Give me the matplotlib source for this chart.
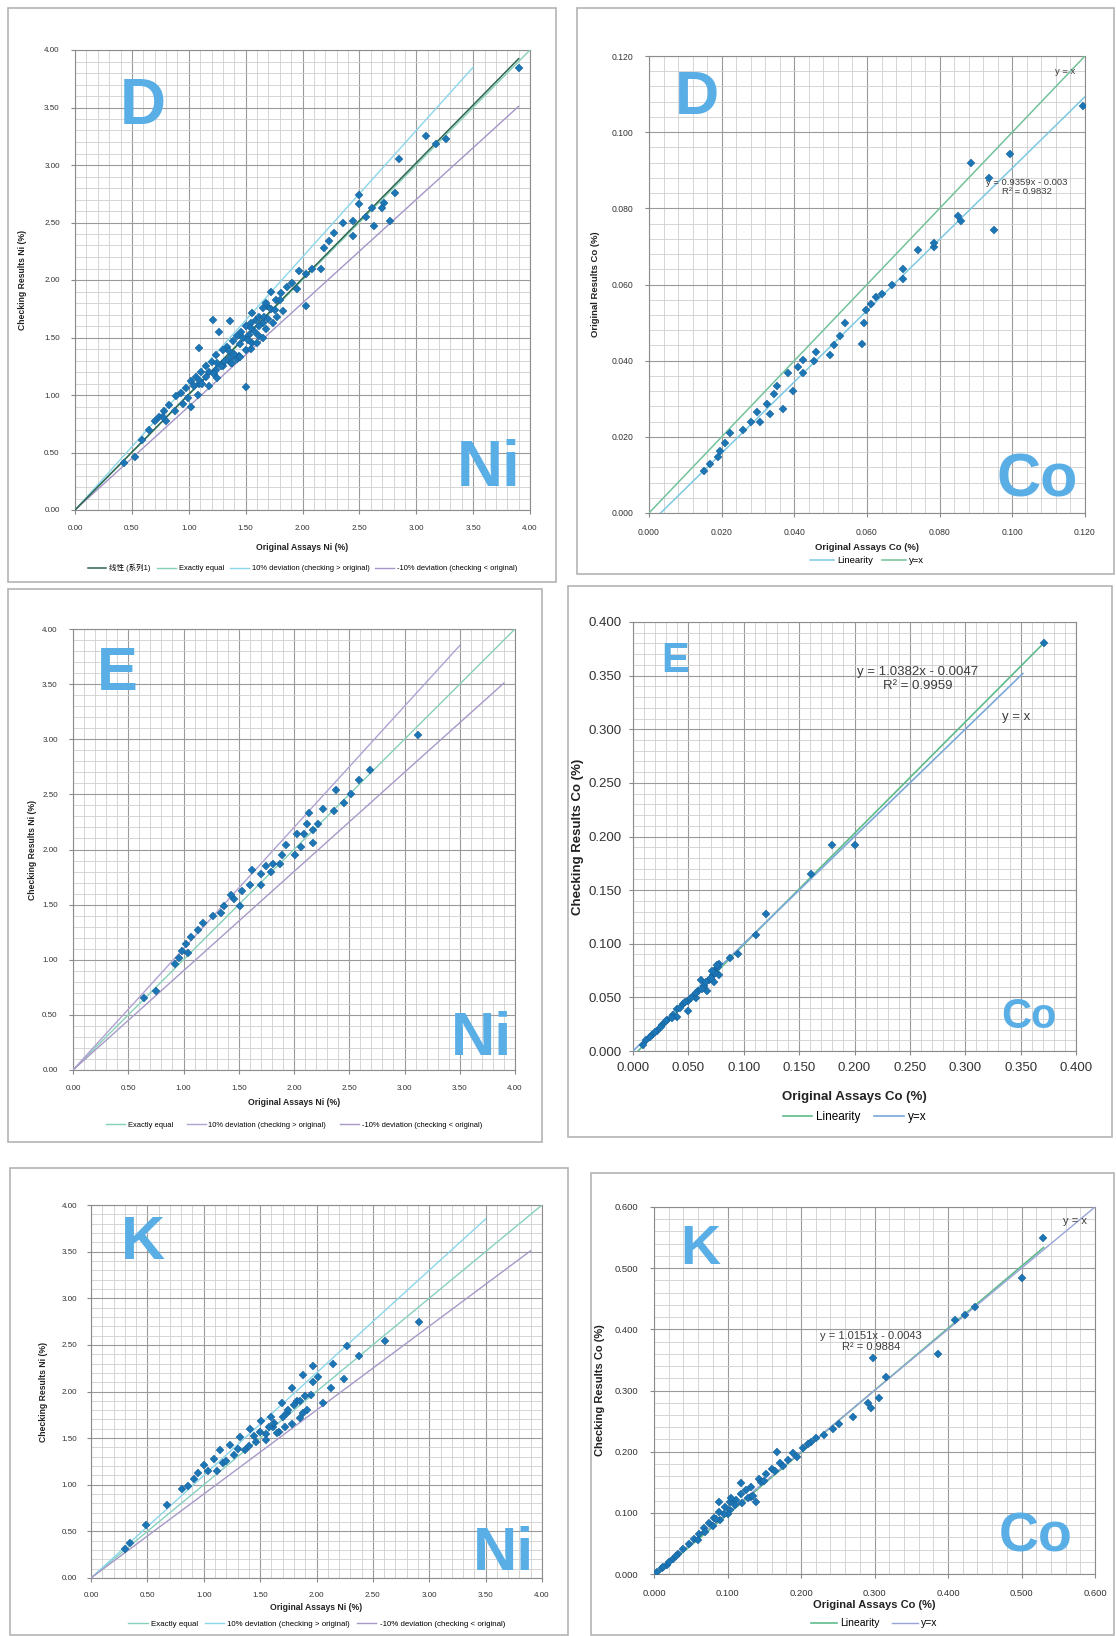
import matplotlib
matplotlib.use("Agg")
import matplotlib.pyplot as plt
import numpy as np
from matplotlib.patches import Rectangle
from matplotlib.ticker import MultipleLocator, FormatStrFormatter

plt.rcParams["font.family"] = ["Liberation Sans", "Noto Sans CJK SC", "DejaVu Sans"]

W, H = 1116, 1636

# ---- data: Site D, Ni (original, checking) ----
d_ni_orig = [3.90, 3.09, 3.17, 3.26, 2.85, 2.50, 2.50, 2.61, 2.70, 2.81, 2.72, 2.63, 2.77,
             2.44, 2.36, 2.44, 2.56, 2.28, 2.23, 2.19, 2.16, 2.08, 2.03, 1.97, 1.91, 1.95,
             2.03, 1.86, 1.81, 1.77, 1.72, 1.69, 1.65, 1.83, 1.21, 1.36, 1.27, 1.09, 1.50,
             1.50, 1.55, 1.59, 1.62, 1.46, 1.42, 1.39, 1.34, 1.30, 1.24, 1.20, 1.15, 1.11,
             1.06, 1.02, 0.98, 0.93, 0.89, 0.83, 0.78, 0.74, 0.70, 0.65, 0.59, 0.53, 0.43,
             1.37, 1.42, 1.50, 1.56, 1.62, 1.68, 1.74, 1.78, 1.44, 1.36, 1.30, 1.24, 1.15,
             1.09, 1.02, 0.99, 0.80, 0.77, 1.56, 1.68, 1.80, 1.53, 1.65,
             1.05, 1.10, 1.12, 1.18, 1.22, 1.25, 1.28, 1.32, 1.35, 1.40, 1.45, 1.48, 1.52,
             1.55, 1.58, 1.62, 1.66, 1.70, 1.72, 1.76, 1.60, 1.55, 1.65, 1.45, 1.38, 1.25,
             1.18, 1.08, 0.95, 0.88]
d_ni_check = [3.84, 3.25, 3.18, 3.23, 3.05, 2.74, 2.66, 2.63, 2.63, 2.76, 2.67, 2.47, 2.51,
              2.51, 2.50, 2.38, 2.55, 2.41, 2.34, 2.28, 2.10, 2.10, 2.05, 2.08, 1.97, 1.92,
              1.77, 1.94, 1.89, 1.83, 1.90, 1.77, 1.76, 1.73, 1.65, 1.64, 1.55, 1.41, 1.07,
              1.60, 1.63, 1.65, 1.68, 1.55, 1.51, 1.47, 1.42, 1.39, 1.35, 1.29, 1.25, 1.20,
              1.16, 1.12, 1.06, 1.02, 0.99, 0.91, 0.86, 0.81, 0.77, 0.70, 0.61, 0.46, 0.41,
              1.28, 1.31, 1.39, 1.45, 1.51, 1.57, 1.63, 1.68, 1.34, 1.32, 1.25, 1.22, 1.16,
              1.10, 0.90, 0.97, 0.77, 0.81, 1.71, 1.80, 1.83, 1.52, 1.63,
              1.08, 1.12, 1.10, 1.20, 1.18, 1.28, 1.25, 1.30, 1.38, 1.36, 1.44, 1.50, 1.48,
              1.58, 1.55, 1.60, 1.68, 1.66, 1.75, 1.74, 1.45, 1.40, 1.50, 1.33, 1.28, 1.15,
              1.08, 1.00, 0.92, 0.86]

# ---- data: Site D, Co ----
d_co_orig = [0.1195, 0.0994, 0.0885, 0.0937, 0.0850, 0.0860, 0.0950, 0.0784, 0.0784, 0.0740,
             0.0700, 0.0698, 0.0670, 0.0626, 0.0640, 0.0610, 0.0598, 0.0592, 0.0586, 0.0540,
             0.0526, 0.0510, 0.0497, 0.0460, 0.0454, 0.0425, 0.0410, 0.0382, 0.0353, 0.0345,
             0.0325, 0.0296, 0.0282, 0.0259, 0.0224, 0.0210, 0.0195, 0.0190, 0.0167, 0.0152,
             0.0425, 0.0396, 0.0368, 0.0333, 0.0305]
d_co_check = [0.1070, 0.0942, 0.0920, 0.0880, 0.0781, 0.0767, 0.0742, 0.0699, 0.0710, 0.0690,
              0.0640, 0.0614, 0.0600, 0.0567, 0.0575, 0.0548, 0.0534, 0.0500, 0.0444, 0.0500,
              0.0466, 0.0440, 0.0416, 0.0422, 0.0400, 0.0403, 0.0384, 0.0367, 0.0334, 0.0312,
              0.0285, 0.0266, 0.0238, 0.0219, 0.0211, 0.0184, 0.0164, 0.0148, 0.0129, 0.0110,
              0.0367, 0.0320, 0.0274, 0.0260, 0.0238]
d_co_fit = (0.9359, -0.003)
d_co_r2 = 0.9832

# ---- data: Site E, Ni ----
e_ni_orig = [3.12, 2.69, 2.59, 2.38, 2.52, 2.45, 2.26, 2.36, 2.14, 2.22, 2.12, 2.09, 2.06,
             1.93, 2.01, 1.89, 1.81, 1.75, 1.70, 1.62, 1.60, 1.53, 1.46, 1.43, 1.37, 1.27,
             1.18, 1.13, 1.07, 1.02, 0.99, 0.96, 0.92, 1.04, 0.64, 0.75, 1.79, 1.87, 1.51,
             1.34, 2.03, 2.17, 2.17, 1.70]
e_ni_check = [3.04, 2.72, 2.63, 2.54, 2.50, 2.42, 2.37, 2.35, 2.33, 2.23, 2.23, 2.14, 2.02,
              2.04, 1.95, 1.95, 1.87, 1.85, 1.78, 1.81, 1.68, 1.62, 1.55, 1.59, 1.49, 1.40,
              1.33, 1.27, 1.21, 1.14, 1.08, 1.02, 0.96, 1.06, 0.65, 0.72, 1.80, 1.87, 1.49,
              1.42, 2.14, 2.06, 2.18, 1.68]

# ---- data: Site E, Co ----
e_co_orig = [0.371, 0.200, 0.180, 0.161, 0.120, 0.111, 0.095, 0.088, 0.078, 0.075, 0.072,
             0.069, 0.064, 0.059, 0.055, 0.050, 0.045, 0.040, 0.036, 0.031, 0.026, 0.022,
             0.017, 0.012, 0.009, 0.073, 0.067, 0.057, 0.040, 0.050, 0.061, 0.078,
             0.015, 0.020, 0.025, 0.030, 0.035, 0.042, 0.047, 0.052, 0.057, 0.062, 0.066,
             0.070, 0.074, 0.077, 0.071, 0.076]
e_co_check = [0.380, 0.192, 0.192, 0.165, 0.128, 0.108, 0.090, 0.087, 0.081, 0.076, 0.071,
              0.066, 0.061, 0.056, 0.051, 0.047, 0.044, 0.039, 0.034, 0.029, 0.024, 0.019,
              0.015, 0.010, 0.006, 0.064, 0.056, 0.049, 0.032, 0.037, 0.066, 0.071,
              0.013, 0.018, 0.022, 0.028, 0.031, 0.040, 0.046, 0.049, 0.054, 0.058, 0.064,
              0.068, 0.073, 0.078, 0.075, 0.080]
e_co_fit = (1.0382, -0.0047)
e_co_r2 = 0.9959

# ---- data: Site K, Ni ----
k_ni_orig = [2.91, 2.61, 2.38, 2.27, 2.01, 1.88, 1.97, 2.24, 2.13, 1.78, 1.95, 1.83, 1.69,
             2.06, 1.88, 1.74, 1.60, 1.51, 1.41, 1.55, 1.67, 1.78, 1.32, 1.23, 1.37, 1.14,
             1.09, 1.00, 1.17, 0.95, 0.91, 0.86, 0.81, 0.67, 0.49, 0.35, 0.30, 1.46, 1.61,
             1.97, 2.15, 1.27, 1.04,
             1.45, 1.50, 1.58, 1.62, 1.70, 1.75, 1.80, 1.85, 1.90, 1.55, 1.65, 1.72, 1.85,
             1.92, 1.40, 1.30, 1.20, 1.12]
k_ni_check = [2.74, 2.54, 2.38, 2.49, 2.16, 2.18, 2.10, 2.13, 2.04, 2.04, 1.96, 1.90, 1.88,
              1.88, 1.77, 1.77, 1.73, 1.68, 1.60, 1.54, 1.57, 1.65, 1.51, 1.43, 1.37, 1.37,
              1.28, 1.21, 1.23, 1.13, 1.06, 0.99, 0.95, 0.78, 0.57, 0.37, 0.31, 1.46, 1.62,
              2.27, 2.29, 1.32, 1.15,
              1.52, 1.57, 1.62, 1.66, 1.73, 1.80, 1.85, 1.90, 1.95, 1.48, 1.55, 1.62, 1.72,
              1.80, 1.42, 1.38, 1.26, 1.15]

# ---- data: Site K, Co ----
k_co_orig = [0.529, 0.501, 0.437, 0.423, 0.409, 0.387, 0.298, 0.316, 0.306, 0.291, 0.295,
             0.271, 0.252, 0.243, 0.231, 0.214, 0.203, 0.189, 0.182, 0.172, 0.160, 0.153,
             0.143, 0.132, 0.125, 0.118, 0.111, 0.104, 0.096, 0.089, 0.082, 0.075, 0.068,
             0.061, 0.054, 0.047, 0.040, 0.033, 0.026, 0.018, 0.011, 0.004, 0.118, 0.132,
             0.104, 0.089, 0.139, 0.167,
             0.060, 0.070, 0.080, 0.090, 0.100, 0.110, 0.120, 0.128, 0.135, 0.145, 0.150,
             0.165, 0.175, 0.195, 0.210, 0.220, 0.105, 0.095, 0.085, 0.030, 0.020, 0.012]
k_co_check = [0.549, 0.484, 0.436, 0.424, 0.416, 0.360, 0.353, 0.322, 0.288, 0.280, 0.271,
              0.257, 0.245, 0.237, 0.228, 0.216, 0.206, 0.198, 0.186, 0.181, 0.172, 0.164,
              0.155, 0.143, 0.138, 0.131, 0.121, 0.118, 0.109, 0.101, 0.092, 0.084, 0.075,
              0.066, 0.058, 0.049, 0.041, 0.032, 0.024, 0.015, 0.009, 0.003, 0.148, 0.126,
              0.104, 0.118, 0.118, 0.199,
              0.055, 0.068, 0.079, 0.088, 0.098, 0.112, 0.116, 0.125, 0.128, 0.150, 0.152,
              0.168, 0.176, 0.192, 0.212, 0.222, 0.125, 0.098, 0.090, 0.030, 0.020, 0.012]
k_co_fit = (1.0151, -0.0043)
k_co_r2 = 0.9884

LETTER = "#5aaee6"
MARK = "#1c76b6"
TXT = "#3c3c3c"


def px_axes(fig, x0, x1, y0, y1):
    return fig.add_axes([x0 / W, 1 - y1 / H, (x1 - x0) / W, (y1 - y0) / H])


def frame(fig, x0, x1, y0, y1):
    fig.patches.append(Rectangle((x0 / W, 1 - y1 / H), (x1 - x0) / W, (y1 - y0) / H,
                                 transform=fig.transFigure, fill=False,
                                 edgecolor="#b4b4b4", linewidth=1.2))


def style(ax, lim, major, minor, fmt, tsize, pad):
    ax.set_xlim(0, lim)
    ax.set_ylim(0, lim)
    for axis in (ax.xaxis, ax.yaxis):
        axis.set_major_locator(MultipleLocator(major))
        axis.set_minor_locator(MultipleLocator(minor))
        axis.set_major_formatter(FormatStrFormatter(fmt))
    ax.grid(which="major", color="#9a9a9a", linewidth=0.8)
    ax.grid(which="minor", color="#cfcfcf", linewidth=0.6)
    ax.set_axisbelow(True)
    ax.tick_params(which="major", labelsize=tsize, pad=pad, length=3, color="#888888",
                   labelcolor="#333333")
    ax.tick_params(which="minor", length=0)
    for s in ax.spines.values():
        s.set_color("#8c8c8c")
        s.set_linewidth(0.8)


def labels(ax, xl, yl, size, xy, yx):
    ax.set_xlabel(xl, fontsize=size, fontweight="bold", color="#222222")
    ax.set_ylabel(yl, fontsize=size, fontweight="bold", color="#222222")
    ax.xaxis.set_label_coords(0.5, xy)
    ax.yaxis.set_label_coords(yx, 0.5)


def big_letters(ax, site, elem, size, spos, epos):
    ax.text(*spos, site, transform=ax.transAxes, fontsize=size, fontweight="bold",
            color=LETTER, ha="center", va="center")
    ax.text(*epos, elem, transform=ax.transAxes, fontsize=size, fontweight="bold",
            color=LETTER, ha="center", va="center")


def scatter(ax, x, y, ms=4.0):
    ax.plot(x, y, "D", color=MARK, markersize=ms, markeredgewidth=0.3,
            markeredgecolor="#145a90", zorder=5)


def ni_lines(ax, upper_col, lower_col, eq_col):
    ln_eq, = ax.plot([0, 4.0], [0, 4.0], color=eq_col, lw=1.0, zorder=3)
    xs_up = np.array([0, 3.5])
    ln_up, = ax.plot(xs_up, 1.1 * xs_up, color=upper_col, lw=1.0, zorder=3)
    xs_lo = np.array([0, 3.9])
    ln_lo, = ax.plot(xs_lo, 0.9 * xs_lo, color=lower_col, lw=1.0, zorder=3)
    return ln_eq, ln_up, ln_lo


fig = plt.figure(figsize=(W / 100, H / 100), dpi=100)
fig.patch.set_facecolor("white")

for box in [(8, 556, 8, 582), (577, 1114, 8, 574), (8, 542, 589, 1142),
            (568, 1112, 586, 1137), (10, 568, 1168, 1635), (591, 1114, 1173, 1635)]:
    frame(fig, *box)

ni_names = ["Exactly equal", "10% deviation (checking > original)",
            "-10% deviation (checking < original)"]

# ---------- panel D Ni ----------
ax = px_axes(fig, 75, 530, 50, 510)
style(ax, 4.0, 0.5, 0.1, "%.2f", 5.8, 8)
xo, yo = np.array(d_ni_orig), np.array(d_ni_check)
slope = np.sum(xo * yo) / np.sum(xo * xo)  # trend through origin
xs = np.array([0, xo.max()])
ln_fit, = ax.plot(xs, slope * xs, color="#2f6650", lw=1.1, zorder=4)
l1, l2, l3 = ni_lines(ax, "#8ad6ea", "#a595c8", "#86d0b8")
scatter(ax, d_ni_orig, d_ni_check)
labels(ax, "Original Assays Ni (%)", "Checking Results Ni (%)", 6.2, -0.072, -0.105)
big_letters(ax, "D", "Ni", 46, (0.15, 0.875), (0.91, 0.09))
ax.legend([ln_fit, l1, l2, l3], ["线性 (系列1)"] + ni_names, loc="center",
          bbox_to_anchor=(0.5, -0.126), ncol=4, frameon=False, fontsize=5.4,
          handlelength=2.5, columnspacing=0.8, handletextpad=0.4)

# ---------- panel D Co ----------
ax = px_axes(fig, 649, 1085, 56, 513)
style(ax, 0.12, 0.02, 0.004, "%.3f", 6.2, 8)
a, b = d_co_fit
xs = np.array([0.003, 0.12])
ln_lin, = ax.plot(xs, a * xs + b, color="#7cc8e2", lw=1.1, zorder=3)
ln_yx, = ax.plot([0, 0.12], [0, 0.12], color="#72c29a", lw=1.1, zorder=3)
scatter(ax, d_co_orig, d_co_check)
ax.text(0.104, 0.0855, f"y = {a:.4f}x - {abs(b):.3f}\nR² = {d_co_r2:.4f}", fontsize=6.8,
        color=TXT, ha="center", va="center", linespacing=1.0)
ax.text(0.1145, 0.1160, "y = x", fontsize=6.8, color=TXT, ha="center", va="center")
labels(ax, "Original Assays Co (%)", "Original Results Co (%)", 6.8, -0.066, -0.112)
big_letters(ax, "D", "Co", 44, (0.11, 0.906), (0.89, 0.07))
ax.legend([ln_lin, ln_yx], ["Linearity", "y=x"], loc="center",
          bbox_to_anchor=(0.5, -0.105), ncol=2, frameon=False, fontsize=6.8,
          handlelength=2.5, columnspacing=1.0, handletextpad=0.3)

# ---------- panel E Ni ----------
ax = px_axes(fig, 73, 515, 629, 1070)
style(ax, 4.0, 0.5, 0.1, "%.2f", 5.8, 8)
l1, l2, l3 = ni_lines(ax, "#b0a2d2", "#a898c8", "#86d0b8")
scatter(ax, e_ni_orig, e_ni_check)
labels(ax, "Original Assays Ni (%)", "Checking Results Ni (%)", 6.2, -0.064, -0.081)
big_letters(ax, "E", "Ni", 44, (0.10, 0.896), (0.925, 0.07))
ax.legend([l1, l2, l3], ni_names, loc="center", bbox_to_anchor=(0.5, -0.125), ncol=3,
          frameon=False, fontsize=5.4, handlelength=2.5, columnspacing=1.8,
          handletextpad=0.4)

# ---------- panel E Co ----------
ax = px_axes(fig, 633, 1076, 622, 1051)
style(ax, 0.4, 0.05, 0.01, "%.3f", 9.5, 5)
a, b = e_co_fit
xs = np.array([0.0, 0.371])
ln_lin, = ax.plot(xs, a * xs + b, color="#5dbb8a", lw=1.2, zorder=3)
ln_yx, = ax.plot([0, 0.352], [0, 0.352], color="#7aa8d8", lw=1.2, zorder=3)
scatter(ax, e_co_orig, e_co_check, ms=4.4)
ax.text(0.257, 0.347, f"y = {a:.4f}x - {abs(b):.4f}\nR² = {e_co_r2:.4f}", fontsize=9.5,
        color=TXT, ha="center", va="center", linespacing=1.2)
ax.text(0.346, 0.311, "y = x", fontsize=9.5, color=TXT, ha="center", va="center")
labels(ax, "Original Assays Co (%)", "Checking Results Co (%)", 9.5, -0.093, -0.11)
big_letters(ax, "E", "Co", 30, (0.094, 0.91), (0.894, 0.08))
ax.legend([ln_lin, ln_yx], ["Linearity", "y=x"], loc="center",
          bbox_to_anchor=(0.5, -0.154), ncol=2, frameon=False, fontsize=8.5,
          handlelength=2.5, columnspacing=1.2, handletextpad=0.3)

# ---------- panel K Ni ----------
ax = px_axes(fig, 91, 542, 1205, 1578)
style(ax, 4.0, 0.5, 0.1, "%.2f", 5.8, 7)
l1, l2, l3 = ni_lines(ax, "#8ad6ea", "#a898c8", "#86d0c0")
scatter(ax, k_ni_orig, k_ni_check)
labels(ax, "Original Assays Ni (%)", "Checking Results Ni (%)", 6.2, -0.068, -0.095)
big_letters(ax, "K", "Ni", 44, (0.115, 0.897), (0.915, 0.064))
ax.legend([l1, l2, l3], ni_names, loc="center", bbox_to_anchor=(0.5, -0.123), ncol=3,
          frameon=False, fontsize=5.7, handlelength=2.5, columnspacing=0.8,
          handletextpad=0.4)

# ---------- panel K Co ----------
ax = px_axes(fig, 654, 1095, 1207, 1574)
style(ax, 0.6, 0.1, 0.02, "%.3f", 6.8, 8)
a, b = k_co_fit
xs = np.array([0.0, 0.53])
ln_lin, = ax.plot(xs, a * xs + b, color="#5dbb8a", lw=1.2, zorder=3)
ln_yx, = ax.plot([0, 0.6], [0, 0.6], color="#98a4d8", lw=1.0, zorder=3)
scatter(ax, k_co_orig, k_co_check, ms=4.2)
ax.text(0.295, 0.380, f"y = {a:.4f}x - {abs(b):.4f}\nR² = {k_co_r2:.4f}", fontsize=8,
        color=TXT, ha="center", va="center", linespacing=1.15)
ax.text(0.573, 0.577, "y = x", fontsize=8, color=TXT, ha="center", va="center")
labels(ax, "Original Assays Co (%)", "Checking Results Co (%)", 8, -0.072, -0.111)
big_letters(ax, "K", "Co", 40, (0.106, 0.884), (0.865, 0.10))
ax.legend([ln_lin, ln_yx], ["Linearity", "y=x"], loc="center",
          bbox_to_anchor=(0.5, -0.134), ncol=2, frameon=False, fontsize=7.5,
          handlelength=2.5, columnspacing=1.2, handletextpad=0.3)

plt.savefig("out.png", dpi=100)
plt.close()
